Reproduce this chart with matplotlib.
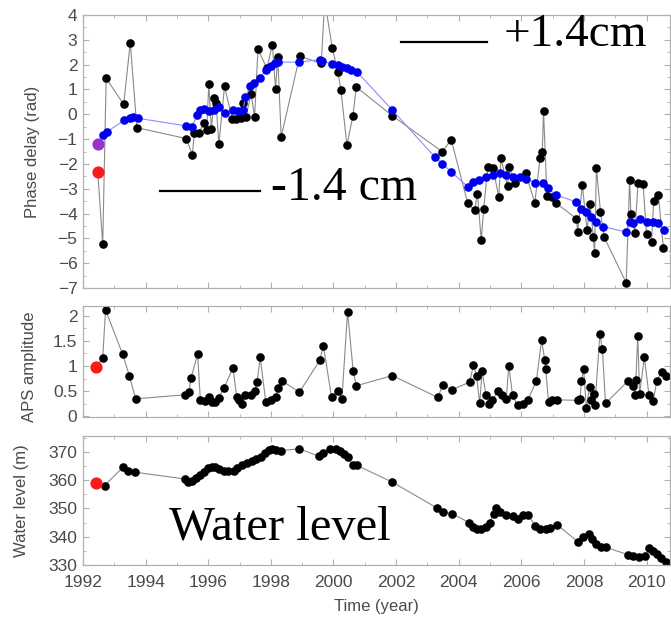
import matplotlib
matplotlib.use("Agg")
import matplotlib.pyplot as plt
from matplotlib.ticker import MultipleLocator

# ---------------- data ----------------
phase_t = [1992.47, 1992.63, 1992.74, 1993.30, 1993.51, 1993.72, 1995.30, 1995.49, 1995.56,
           1995.72, 1995.85, 1995.95, 1996.02, 1996.10, 1996.20, 1996.25, 1996.34, 1996.52,
           1996.77, 1996.90, 1997.05, 1997.12, 1997.20, 1997.37, 1997.48, 1997.59, 1997.87,
           1998.05, 1998.15, 1998.22, 1998.33, 1998.92, 1999.61, 1999.72, 1999.96, 2000.14,
           2000.24, 2000.43, 2000.62, 2000.73, 2001.87, 2003.48, 2003.76, 2004.29, 2004.51,
           2004.60, 2004.72, 2004.80, 2004.93, 2005.10, 2005.28, 2005.35, 2005.56, 2005.61,
           2005.80, 2006.14, 2006.43, 2006.60, 2006.67, 2006.71, 2006.82, 2006.97, 2007.12,
           2007.76, 2007.80, 2007.95, 2008.10, 2008.20, 2008.30, 2008.34, 2008.40, 2008.53,
           2008.64, 2009.35, 2009.46, 2009.50, 2009.63, 2009.73, 2009.89, 2010.00, 2010.16,
           2010.23, 2010.38, 2010.54]
phase_v = [-2.31, -5.24, 1.45, 0.40, 2.89, -0.54, -0.98, -1.63, -0.74,
           -0.74, -0.34, -0.62, 1.21, -0.58, 0.67, 0.45, -1.21, 1.12,
           -0.20, -0.20, -0.15, 0.47, -0.10, 0.81, -0.09, 2.62, 1.85,
           2.80, 1.02, 2.32, -0.91, 2.34, 2.05, 4.60, 2.68, 1.72,
           0.97, -1.25, -0.08, 1.10, -0.05, -1.51, -1.02, -3.59, -3.86,
           -3.20, -5.07, -3.80, -2.12, -2.18, -3.33, -1.78, -2.90, -2.12,
           -2.77, -2.38, -3.56, -1.78, -1.51, 0.14, -3.30, -3.32, -3.59,
           -4.20, -4.74, -2.85, -4.67, -3.60, -4.93, -5.60, -2.18, -3.93,
           -4.93, -6.79, -2.63, -4.00, -4.78, -2.76, -2.82, -4.82, -5.13,
           -3.50, -3.26, -5.40]

smooth_t = [1992.47, 1992.65, 1992.76, 1993.32, 1993.49, 1993.61, 1993.75, 1995.30, 1995.49,
            1995.64, 1995.74, 1995.88, 1996.04, 1996.20, 1996.36, 1996.54, 1996.79, 1996.95,
            1997.11, 1997.19, 1997.34, 1997.45, 1997.64, 1997.85, 1998.01, 1998.12, 1998.23,
            1998.90, 1999.56, 1999.65, 1999.96, 2000.14, 2000.28, 2000.43, 2000.57, 2000.75,
            2001.88, 2003.23, 2003.48, 2003.76, 2004.29, 2004.45, 2004.66, 2004.88, 2005.10,
            2005.31, 2005.52, 2005.73, 2005.95, 2006.16, 2006.43, 2006.68, 2006.85, 2007.12,
            2007.76, 2007.92, 2008.08, 2008.24, 2008.40, 2008.61, 2009.35, 2009.46, 2009.57,
            2009.78, 2010.00, 2010.20, 2010.36, 2010.55]
smooth_v = [-1.18, -0.85, -0.71, -0.24, -0.16, -0.13, -0.16, -0.47, -0.50,
            -0.04, 0.17, 0.20, 0.13, 0.17, 0.31, 0.04, 0.17, 0.13,
            0.17, 0.71, 1.12, 1.25, 1.48, 1.77, 1.95, 2.05, 2.10,
            2.10, 2.20, 2.15, 2.02, 1.98, 1.91, 1.85, 1.78, 1.71,
            0.17, -1.71, -2.00, -2.32, -2.92, -2.72, -2.66, -2.52, -2.45,
            -2.38, -2.45, -2.52, -2.52, -2.59, -2.76, -2.76, -2.99, -3.26,
            -3.53, -3.80, -3.93, -4.13, -4.33, -4.53, -4.74, -4.33, -4.40,
            -4.20, -4.33, -4.33, -4.40, -4.67]

aps_t = [1992.42, 1992.63, 1992.72, 1993.27, 1993.48, 1993.68, 1995.26, 1995.38, 1995.45,
         1995.66, 1995.75, 1995.90, 1996.02, 1996.11, 1996.23, 1996.33, 1996.51, 1996.79,
         1996.91, 1996.99, 1997.08, 1997.18, 1997.36, 1997.48, 1997.56, 1997.66, 1997.84,
         1998.02, 1998.15, 1998.23, 1998.35, 1998.91, 1999.56, 1999.68, 1999.94, 2000.15,
         2000.27, 2000.45, 2000.63, 2000.73, 2001.88, 2003.33, 2003.50, 2003.78, 2004.35,
         2004.47, 2004.57, 2004.67, 2004.75, 2004.87, 2004.96, 2005.08, 2005.24, 2005.39,
         2005.52, 2005.60, 2005.72, 2005.88, 2006.05, 2006.21, 2006.48, 2006.65, 2006.75,
         2006.78, 2006.87, 2006.99, 2007.14, 2007.82, 2007.88, 2007.92, 2007.99, 2008.08,
         2008.18, 2008.23, 2008.33, 2008.35, 2008.51, 2008.59, 2008.69, 2009.42, 2009.56,
         2009.64, 2009.66, 2009.72, 2009.78, 2009.93, 2010.08, 2010.21, 2010.33, 2010.48,
         2010.61]
aps_v = [0.99, 1.16, 2.11, 1.23, 0.81, 0.35, 0.43, 0.48, 0.76,
         1.24, 0.32, 0.30, 0.38, 0.28, 0.28, 0.37, 0.57, 0.97,
         0.38, 0.33, 0.24, 0.42, 0.42, 0.50, 0.68, 1.17, 0.28,
         0.33, 0.38, 0.57, 0.71, 0.48, 1.11, 1.40, 0.38, 0.51,
         0.34, 2.08, 0.90, 0.61, 0.81, 0.38, 0.63, 0.53, 0.68,
         1.02, 0.81, 0.26, 0.90, 0.42, 0.24, 0.32, 0.50, 0.42,
         0.35, 1.01, 0.42, 0.22, 0.24, 0.33, 0.70, 1.52, 1.11,
         0.94, 0.28, 0.32, 0.33, 0.32, 0.35, 0.70, 0.94, 0.17,
         0.58, 0.32, 0.45, 0.22, 1.63, 1.34, 0.26, 0.71, 0.61,
         0.43, 0.72, 1.60, 0.45, 1.17, 0.42, 0.30, 0.71, 0.88,
         0.81]

water_t = [1992.42, 1992.69, 1993.27, 1993.44, 1993.66, 1995.26, 1995.36, 1995.48, 1995.62,
           1995.75, 1995.87, 1995.99, 1996.11, 1996.23, 1996.35, 1996.51, 1996.63, 1996.81,
           1996.93, 1997.08, 1997.24, 1997.39, 1997.54, 1997.68, 1997.81, 1997.93, 1998.05,
           1998.17, 1998.33, 1998.90, 1999.54, 1999.66, 1999.90, 2000.08, 2000.21, 2000.33,
           2000.45, 2000.63, 2000.75, 2001.88, 2003.30, 2003.50, 2003.78, 2004.33, 2004.45,
           2004.57, 2004.72, 2004.87, 2004.99, 2005.12, 2005.20, 2005.32, 2005.52, 2005.72,
           2005.90, 2006.05, 2006.21, 2006.45, 2006.61, 2006.78, 2006.93, 2007.14, 2007.82,
           2007.96, 2008.15, 2008.27, 2008.39, 2008.55, 2008.69, 2009.42, 2009.56, 2009.76,
           2009.96, 2010.08, 2010.21, 2010.33, 2010.45, 2010.61]
water_v = [358.9, 358.1, 364.5, 363.3, 362.8, 360.4, 359.5, 359.7, 360.7,
           361.9, 362.8, 364.2, 364.8, 364.5, 364.0, 363.3, 363.1, 363.3,
           364.2, 365.2, 366.0, 366.9, 367.6, 368.1, 369.6, 370.8, 371.1,
           370.8, 370.4, 371.1, 368.4, 369.6, 371.1, 371.1, 370.2, 369.2,
           368.1, 365.4, 365.2, 359.3, 350.2, 348.6, 348.2, 345.0, 343.4,
           342.8, 342.8, 343.4, 345.0, 348.2, 350.2, 348.8, 347.8, 347.4,
           346.2, 347.6, 347.8, 343.8, 342.8, 342.8, 343.1, 344.3, 338.1,
           339.9, 341.1, 339.3, 337.5, 336.3, 336.3, 333.6, 333.1, 332.7,
           333.1, 336.0, 335.1, 333.9, 332.4, 331.0]

ref_phase = (1992.47, -2.31)
ref_phase_smooth = (1992.47, -1.18)
ref_aps = (1992.42, 0.99)
ref_water = (1992.42, 358.9)

year_ticks = [1992, 1994, 1996, 1998, 2000, 2002, 2004, 2006, 2008, 2010]

# ---------------- style ----------------
plt.rcParams['font.family'] = ['Liberation Sans', 'DejaVu Sans']
TXT = '#4a4a4a'
FRAME = '#b0b0b0'
LINE = '#8a8a8a'

fig = plt.figure(figsize=(6.71, 6.18), dpi=100)
W = 587 / 671
L = 83 / 671
ax1 = fig.add_axes([L, 1 - 288 / 618, W, 273 / 618])
ax2 = fig.add_axes([L, 1 - 417 / 618, W, 111 / 618])
ax3 = fig.add_axes([L, 1 - 565 / 618, W, 129 / 618])

def style(ax):
    for s in ax.spines.values():
        s.set_color(FRAME)
        s.set_linewidth(0.9)
    ax.tick_params(which='both', direction='in', top=True, right=True,
                   color=FRAME, labelcolor=TXT, labelsize=12.5)
    ax.tick_params(which='major', length=4)
    ax.tick_params(which='minor', length=2)
    ax.tick_params(axis='x', pad=7)
    ax.tick_params(axis='y', pad=4)
    ax.set_xlim(1992, 2010.75)
    ax.set_xticks(year_ticks)
    ax.xaxis.set_minor_locator(MultipleLocator(1))

ms = 6.2
rms = 8.8
# Phase panel
ax1.plot(phase_t, phase_v, '-', color=LINE, lw=0.8, zorder=1)
ax1.plot(phase_t, phase_v, 'o', color='black', ms=ms, mew=0, zorder=2)
ax1.plot(smooth_t, smooth_v, '-', color='#8c8cff', lw=0.8, zorder=3)
ax1.plot(smooth_t, smooth_v, 'o', color='#0000ee', ms=ms, mew=0, zorder=4)
ax1.plot(*ref_phase, 'o', color='#ff1a1a', ms=rms, mew=0, zorder=5)
ax1.plot(*ref_phase_smooth, 'o', color='#9933cc', ms=rms, mew=0, zorder=5)
ax1.set_ylim(-7, 4)
ax1.yaxis.set_major_locator(MultipleLocator(1))
ax1.yaxis.set_minor_locator(MultipleLocator(0.5))
ax1.set_ylabel('Phase delay (rad)', color=TXT, fontsize=12)
style(ax1)
ax1.tick_params(labelbottom=False)
ax1.yaxis.set_label_coords((40 - 83) / 587, 0.5)

# APS panel
ax2.plot(aps_t, aps_v, '-', color=LINE, lw=0.8, zorder=1)
ax2.plot(aps_t, aps_v, 'o', color='black', ms=ms, mew=0, zorder=2)
ax2.plot(*ref_aps, 'o', color='#ff1a1a', ms=rms, mew=0, zorder=5)
ax2.set_ylim(-0.01, 2.19)
ax2.yaxis.set_minor_locator(MultipleLocator(0.25))
ax2.set_yticks([0, 0.5, 1, 1.5, 2])
ax2.set_yticklabels(['0', '0.5', '1', '1.5', '2'])
ax2.set_ylabel('APS amplitude', color=TXT, fontsize=12)
style(ax2)
ax2.tick_params(labelbottom=False)
ax2.yaxis.set_label_coords((37 - 83) / 587, 0.45)

# Water level panel
ax3.plot(water_t, water_v, '-', color=LINE, lw=0.8, zorder=1)
ax3.plot(water_t, water_v, 'o', color='black', ms=ms, mew=0, zorder=2)
ax3.plot(*ref_water, 'o', color='#ff1a1a', ms=rms, mew=0, zorder=5)
ax3.set_ylim(330, 375.6)
ax3.yaxis.set_major_locator(MultipleLocator(10))
ax3.yaxis.set_minor_locator(MultipleLocator(5))
ax3.set_ylabel('Water level (m)', color=TXT, fontsize=12)
ax3.set_xlabel('Time (year)', color=TXT, fontsize=12)
style(ax3)
ax3.yaxis.set_label_coords((29 - 83) / 587, 0.5)
ax3.xaxis.set_label_coords(0.5, (565 - 599) / 129)

# Annotations (figure pixel coordinates converted to fractions)
def fx(px):
    return px / 671
def fy(py):
    return 1 - py / 618

serif = ['Liberation Serif', 'DejaVu Serif']
fig.add_artist(plt.Line2D([fx(401), fx(487)], [fy(41.5), fy(41.5)], color='black', lw=1.6))
fig.text(fx(504), fy(46.5), '+1.4cm', family=serif, fontsize=34, va='baseline', ha='left')
fig.add_artist(plt.Line2D([fx(160), fx(260)], [fy(191), fy(191)], color='black', lw=1.6))
fig.text(fx(271), fy(200), '-1.4 cm', family=serif, fontsize=34.5, va='baseline', ha='left')
fig.text(fx(169), fy(540), 'Water level', family=serif, fontsize=35, va='baseline', ha='left')

fig.savefig('out.png', dpi=100)
